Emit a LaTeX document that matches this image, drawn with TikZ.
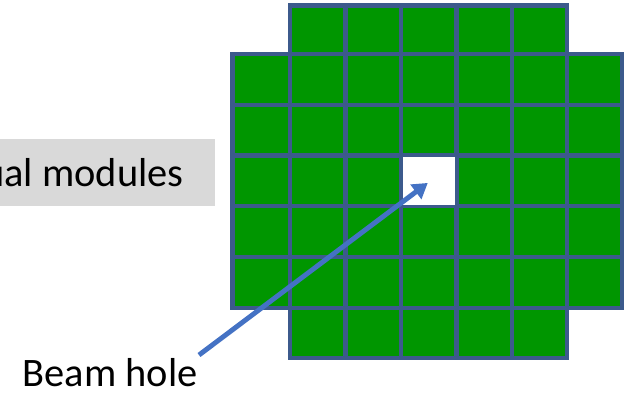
\documentclass[tikz,border=0pt]{standalone}
\usepackage{fontspec}
\setmainfont{Carlito}
\definecolor{modgreen}{RGB}{0,150,0}
\definecolor{modline}{RGB}{60,90,140}
\definecolor{arrowblue}{RGB}{68,114,196}
\definecolor{labelgray}{RGB}{217,217,217}
\usetikzlibrary{arrows.meta}
\tikzset{
  module/.style={draw=modline,fill=modgreen,line width=2.4pt},
  label/.style={inner sep=0pt,font=\fontsize{23}{26}\selectfont},
}

\begin{document}
\begin{tikzpicture}[x=0.02cm,y=-0.02cm]

      \useasboundingbox (0,0) rectangle (634,393);

      % label box, runs off the left edge
      \fill [labelgray] (0,139) rectangle (215,206);
      \node [label,anchor=base east] (modules) at (184,186) {ual modules};

      % rows with five modules
      \foreach \y/\h in {5.5/48.5,308/50}
        \foreach \x/\w in {290/55.5,345.5/55.5,401/55.5,456.5/55.5,512/55}
          \draw [module] (\x,\y) rectangle +(\w,\h);

      % rows with seven modules
      \foreach \y/\h in {54/51,105/50.5,155.5/50.5,206/51,257/51}
        \foreach \x/\w in {232.5/57.5,290/55.5,345.5/55.5,401/55.5,456.5/55.5,512/55,567/55}
          \draw [module] (\x,\y) rectangle +(\w,\h);

      % the hole in the middle
      \node [draw=modline,fill=white,line width=0.6pt,minimum width=30.4pt,minimum height=27.6pt,inner sep=0pt] (hole) at (429.3,181) {};
      \node [inner sep=0pt] (holecentre) at (429,182) {};

      \node [label,anchor=base west] (beamlabel) at (22.5,386) {Beam hole};
      \coordinate (arrowstart) at (199,355);

      \draw [arrowblue,line width=2.8pt,-{Triangle[length=8.5pt,width=10pt]}] (arrowstart) -- (holecentre);

\end{tikzpicture}
\end{document}
